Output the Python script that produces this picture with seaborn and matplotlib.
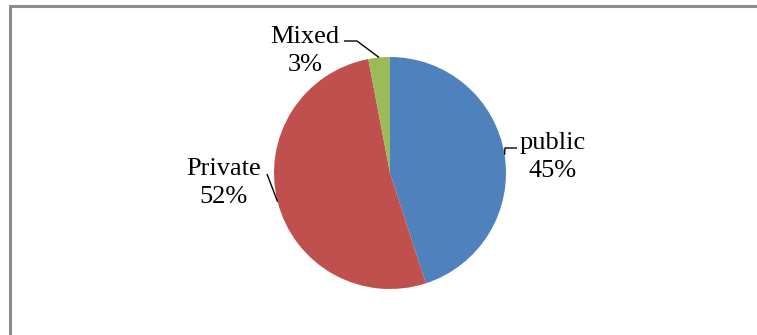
import numpy as np
import matplotlib
matplotlib.use("Agg")
import matplotlib.pyplot as plt
import seaborn as sns
from matplotlib.patches import Rectangle

categories = ["public", "Private", "Mixed"]
values = [45, 52, 3]
colors = ["#4F81BD", "#C0504D", "#9BBB59"]

sns.set_style("white")
plt.rcParams['font.family'] = ['Liberation Serif', 'DejaVu Serif']

W, H = 757, 335
fig = plt.figure(figsize=(W / 100, H / 100), dpi=100)

# outer frame (chart border)
fig.patches.append(Rectangle((9.5 / W, -0.1), 1.2, (H - 5.5) / H + 0.1,
                             transform=fig.transFigure, fill=False,
                             edgecolor="#8c8c8c", linewidth=2.2))

cx, cy, r = 390, 173, 116
ax = fig.add_axes([(cx - r) / W, (H - cy - r) / H, 2 * r / W, 2 * r / H])
wedges, _ = ax.pie(values, colors=colors, startangle=90, counterclock=False,
                   radius=1.0, wedgeprops=dict(linewidth=0))
ax.set_xlim(-1, 1)
ax.set_ylim(-1, 1)
ax.set_aspect("equal")
ax.axis("off")

def px(x, y):
    return ((x - cx) / r, (cy - y) / r)

# label positions (pixel centers) and leader-line elbows
label_pos = {"public": (553, 157), "Private": (224, 183), "Mixed": (305, 51)}
elbows = {"public": [(505, 148), (517, 148)],
          "Private": [(267, 174)],
          "Mixed": [(357, 41), (344, 41)]}

total = sum(values)
start = 90.0
for cat, v, w in zip(categories, values, wedges):
    ang = start - 360 * v / total / 2
    start -= 360 * v / total
    ex, ey = np.cos(np.radians(ang)), np.sin(np.radians(ang))
    pts = [(ex, ey)] + [px(*p) for p in elbows[cat]]
    xs, ys = zip(*pts)
    ax.plot(xs, ys, color="black", linewidth=1.0, clip_on=False,
            solid_capstyle="butt")
    lx, ly = px(*label_pos[cat])
    ax.text(lx, ly, f"{cat}\n{v}%", ha="center", va="center",
            fontsize=19, linespacing=1.4, color="black", clip_on=False)

fig.savefig("out.png", dpi=100)
